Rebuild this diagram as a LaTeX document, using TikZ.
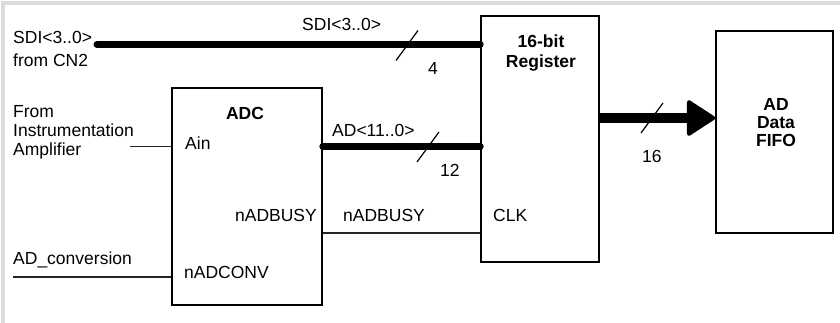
\documentclass[tikz,border=0pt]{standalone}
\usepackage{fontspec}
\setmainfont{Liberation Sans}
\usetikzlibrary{arrows.meta}
\usetikzlibrary{shapes}

\begin{document}
\begin{tikzpicture}[x = 1pt, y = -1pt, font = \fontsize{17.5}{19}\selectfont]
	\tikzstyle{boxStyle} = [draw, line width = 1.6pt, inner sep = 0pt]
	\tikzstyle{titleStyle} = [inner sep = 0pt, anchor = base, align = center]
	\tikzstyle{textStyle} = [inner sep = 0pt, anchor = base west, align = left]
	\tikzstyle{wireStyle} = [line width = 1.3pt, black!85]
	\tikzstyle{busStyle} = [line width = 7pt, line cap = round]
	\tikzstyle{slashStyle} = [line width = 1.2pt]
	\useasboundingbox (0, 0) rectangle (840, 323);
	\fill[black!14] (1, 1) rectangle (840, 5);
	\fill[black!14] (1, 1) rectangle (5, 323);
	% blocks
	\node[boxStyle, minimum width = 150pt, minimum height = 217pt] (adc) at (247, 196.5) {};
	\node[boxStyle, minimum width = 118pt, minimum height = 246pt] (reg) at (540, 139) {};
	\node[boxStyle, minimum width = 117pt, minimum height = 202pt] (fifo) at (774.5, 132) {};
	\node[titleStyle, font = \fontsize{17.5}{19}\selectfont\bfseries] (adcT) at (245, 120) {ADC};
	\node[titleStyle, font = \fontsize{17.5}{20}\selectfont\bfseries] (regT) at (541, 68) {16-bit\\Register};
	\node[titleStyle, font = \fontsize{17.5}{18}\selectfont\bfseries] (fifoT) at (776, 147) {AD\\Data\\FIFO};
	% pins
	\node[textStyle] (ain) at (185, 150) {Ain};
	\node[textStyle, anchor = base east] (busyPin) at (317, 222) {nADBUSY};
	\node[textStyle] (convPin) at (184, 278) {nADCONV};
	\node[textStyle] (clkPin) at (493, 222) {CLK};
	% signal names
	\node[textStyle, font = \fontsize{17.5}{23}\selectfont] (sdiL) at (13, 67) {SDI<3..0>\\from CN2};
	\node[textStyle] (ampL) at (13, 156) {From\\Instrumentation\\Amplifier};
	\node[textStyle] (convL) at (13, 264) {AD\_conversion};
	\node[textStyle] (sdiT) at (302, 31) {SDI<3..0>};
	\node[textStyle] (adT) at (332, 137) {AD<11..0>};
	\node[textStyle] (busyL) at (343, 222) {nADBUSY};
	\node[textStyle] (w4) at (428, 75) {4};
	\node[textStyle] (w12) at (440, 177) {12};
	\node[textStyle] (w16) at (642, 163) {16};
	% connections
	\coordinate (sdiIn) at (97, 44.5);
	\coordinate (adY) at (130, 146.5);
	\coordinate (busyY) at (0, 233);
	\coordinate (convIn) at (13, 277);
	\coordinate (outY) at (0, 118);
	\draw[busStyle] (sdiIn) -- (sdiIn -| reg.west);
	\draw[busStyle] (adc.east |- adY) -- (reg.west |- adY);
	\draw[wireStyle] (adY) -- (adc.west |- adY);
	\draw[wireStyle] (convIn) -- (adc.west |- convIn);
	\draw[wireStyle] (adc.east |- busyY) -- (reg.west |- busyY);
	\draw[line width = 10pt, -{Triangle[round, length = 30pt, width = 38pt, line width = 4pt]}] (reg.east |- outY) -- (fifo.west |- outY);
	% bus widths
	\coordinate (s4) at (407, 45.5);
	\coordinate (s12) at (428, 147);
	\coordinate (s16) at (652, 118);
	\draw[slashStyle] (s4) ++(-11, 15) -- ++(22, -30);
	\draw[slashStyle] (s12) ++(-11, 15) -- ++(22, -30);
	\draw[slashStyle] (s16) ++(-11, 15) -- ++(22, -30);
\end{tikzpicture}
\end{document}
